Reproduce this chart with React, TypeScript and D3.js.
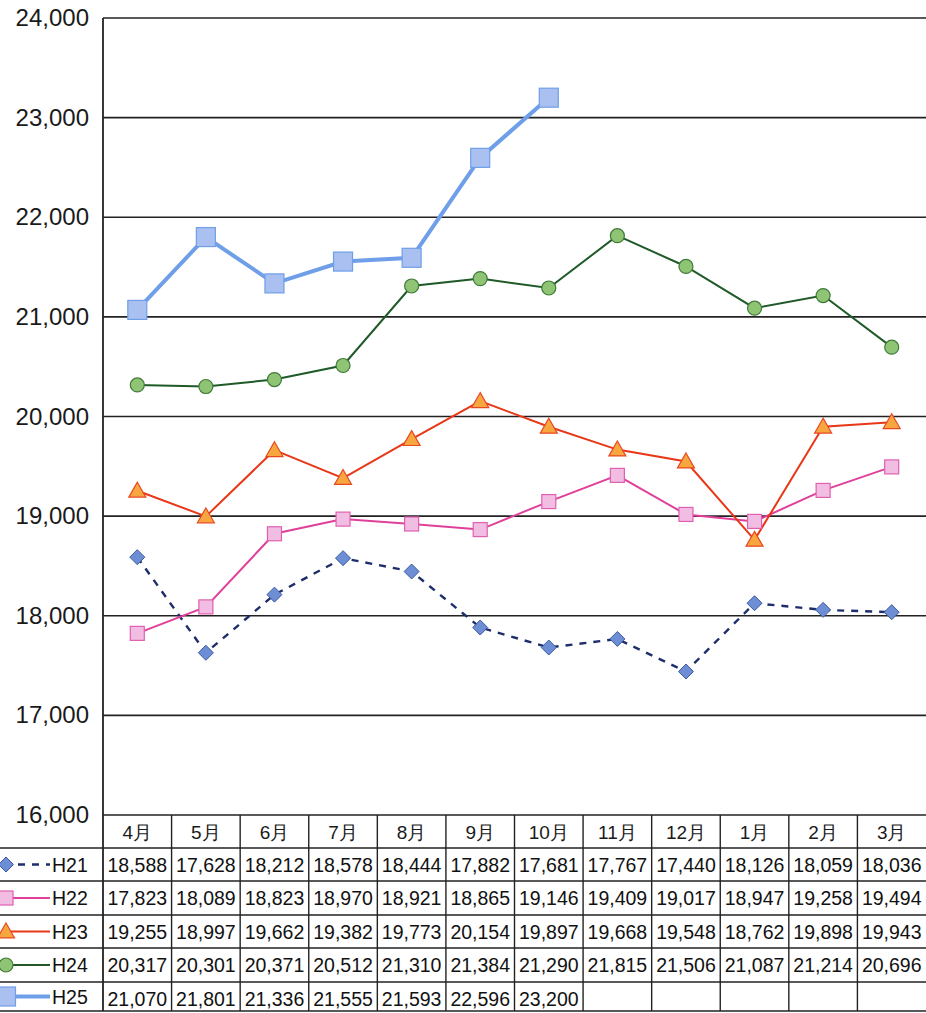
import React from "react";
import * as d3 from "d3";

const months = ["4月", "5月", "6月", "7月", "8月", "9月", "10月", "11月", "12月", "1月", "2月", "3月"];
const yTicks = [16000, 17000, 18000, 19000, 20000, 21000, 22000, 23000, 24000];
const seriesNames = ["H21", "H22", "H23", "H24", "H25"];
const h21 = [18588, 17628, 18212, 18578, 18444, 17882, 17681, 17767, 17440, 18126, 18059, 18036];
const h22 = [17823, 18089, 18823, 18970, 18921, 18865, 19146, 19409, 19017, 18947, 19258, 19494];
const h23 = [19255, 18997, 19662, 19382, 19773, 20154, 19897, 19668, 19548, 18762, 19898, 19943];
const h24 = [20317, 20301, 20371, 20512, 21310, 21384, 21290, 21815, 21506, 21087, 21214, 20696];
const h25 = [21070, 21801, 21336, 21555, 21593, 22596, 23200];

const W = 926;
const H = 1013;
const plotLeft = 103;
const plotRight = 926;
const plotTop = 18;
const plotBottom = 815;
const rowLines = [848, 881, 915, 948, 982, 1011];

type Style = {
  line: string;
  width: number;
  dash?: string;
  marker: "diamond" | "square" | "triangle" | "circle" | "bigsquare";
  fill: string;
  stroke: string;
};

const styles: Style[] = [
  { line: "#1e2d6b", width: 2.4, dash: "7,7", marker: "diamond", fill: "#6d8ed4", stroke: "#3d5aa0" },
  { line: "#e0409a", width: 2, marker: "square", fill: "#f2bde3", stroke: "#e060b0" },
  { line: "#e83818", width: 2, marker: "triangle", fill: "#f7a640", stroke: "#e84820" },
  { line: "#1f5a28", width: 2, marker: "circle", fill: "#8fc474", stroke: "#3f7a38" },
  { line: "#6f9fe8", width: 4, marker: "bigsquare", fill: "#a9c0f0", stroke: "#6f9fe8" },
];

const allData = [h21, h22, h23, h24, h25];

function Marker({ kind, x, y, fill, stroke }: { kind: Style["marker"]; x: number; y: number; fill: string; stroke: string }) {
  if (kind === "diamond") {
    const s = 7.5;
    return <path d={`M${x},${y - s}L${x + s},${y}L${x},${y + s}L${x - s},${y}Z`} fill={fill} stroke={stroke} strokeWidth={1} />;
  }
  if (kind === "square") {
    const s = 7;
    return <rect x={x - s} y={y - s} width={2 * s} height={2 * s} fill={fill} stroke={stroke} strokeWidth={1.2} />;
  }
  if (kind === "bigsquare") {
    const s = 9.5;
    return <rect x={x - s} y={y - s} width={2 * s} height={2 * s} fill={fill} stroke={stroke} strokeWidth={1.2} />;
  }
  if (kind === "triangle") {
    const s = 8.5;
    return <path d={`M${x},${y - s}L${x + s},${y + s * 0.75}L${x - s},${y + s * 0.75}Z`} fill={fill} stroke={stroke} strokeWidth={1.2} />;
  }
  return <circle cx={x} cy={y} r={7} fill={fill} stroke={stroke} strokeWidth={1.2} />;
}

export default function App() {
  const x = d3.scaleBand<string>().domain(months).range([plotLeft, plotRight]);
  const y = d3.scaleLinear().domain([16000, 24000]).range([plotBottom, plotTop]);
  const cx = (m: string) => (x(m) as number) + x.bandwidth() / 2;
  const fmt = d3.format(",");
  const font = "'Liberation Sans', Arial, sans-serif";

  return (
    <svg width={W} height={H} style={{ position: "absolute", left: 0, top: 0, background: "#fff" }} fontFamily={font}>
      <rect x={0} y={0} width={W} height={H} fill="#fff" />
      {/* grid lines */}
      {yTicks.map((t) => (
        <line key={t} x1={plotLeft} x2={plotRight} y1={y(t)} y2={y(t)} stroke="#222" strokeWidth={1.6} />
      ))}
      {/* y labels */}
      {yTicks.map((t) => (
        <text key={"l" + t} x={89} y={y(t) + 8} textAnchor="end" fontSize={24} fill="#1a1a1a">
          {fmt(t)}
        </text>
      ))}
      {rowLines.map((r) => (
        <line key={"r" + r} x1={0} x2={plotRight} y1={r} y2={r} stroke="#222" strokeWidth={1.6} />
      ))}
      {/* column lines */}
      {months.map((m, i) =>
        i === 0 ? null : (
          <line key={"c" + m} x1={x(m) as number} x2={x(m) as number} y1={plotBottom} y2={1011} stroke="#222" strokeWidth={1.4} />
        )
      )}
      <line x1={plotLeft} x2={plotLeft} y1={plotTop} y2={1011} stroke="#222" strokeWidth={1.8} />
      {/* header texts */}
      {months.map((m) => (
        <text key={"h" + m} x={cx(m)} y={839} textAnchor="middle" fontSize={19} fill="#1a1a1a">
          {m}
        </text>
      ))}
      {/* table values */}
      {allData.map((arr, si) =>
        arr.map((v, i) => (
          <text key={`v${si}-${i}`} x={cx(months[i])} y={rowLines[si] + 24} textAnchor="middle" fontSize={19.5} fill="#111">
            {fmt(v)}
          </text>
        ))
      )}
      {/* legend in table */}
      {seriesNames.map((n, si) => {
        const st = styles[si];
        const cy = (rowLines[si] + rowLines[si + 1]) / 2;
        return (
          <g key={"lg" + n}>
            <line x1={4} x2={50} y1={cy} y2={cy} stroke={st.line} strokeWidth={st.width} strokeDasharray={st.dash} />
            <Marker kind={st.marker} x={6} y={cy} fill={st.fill} stroke={st.stroke} />
            <text x={52} y={cy + 7} fontSize={19.5} fill="#111">
              {n}
            </text>
          </g>
        );
      })}
      {/* series lines */}
      {allData.map((arr, si) => {
        const st = styles[si];
        const gen = d3
          .line<number>()
          .x((_, i) => cx(months[i]))
          .y((d) => y(d));
        return (
          <path key={"p" + si} d={gen(arr) || ""} fill="none" stroke={st.line} strokeWidth={st.width} strokeDasharray={st.dash} />
        );
      })}
      {allData.map((arr, si) => {
        const st = styles[si];
        return (
          <g key={"m" + si}>
            {arr.map((v, i) => (
              <Marker key={i} kind={st.marker} x={cx(months[i])} y={y(v)} fill={st.fill} stroke={st.stroke} />
            ))}
          </g>
        );
      })}
    </svg>
  );
}
